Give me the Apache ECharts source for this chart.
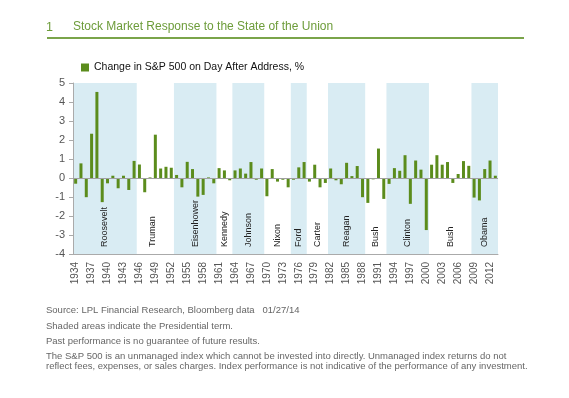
<!DOCTYPE html>
<html>
<head>
<meta charset="utf-8">
<script src="https://cdn.jsdelivr.net/npm/echarts@6/dist/echarts.min.js"></script>
<style>
html, body { margin: 0; padding: 0; background: #fff; }
#chart { width: 569px; height: 398px; }
</style>
</head>
<body>
<div id="chart"></div>
<script>
"use strict";

var years = ['1934', '1935', '1936', '1937', '1938', '1939', '1940', '1941', '1942', '1943',
    '1944', '1945', '1946', '1947', '1948', '1949', '1950', '1951', '1952', '1953',
    '1954', '1955', '1956', '1957', '1958', '1959', '1960', '1961', '1962', '1963',
    '1964', '1965', '1966', '1967', '1968', '1969', '1970', '1971', '1972', '1973',
    '1974', '1975', '1976', '1977', '1978', '1979', '1980', '1981', '1982', '1983',
    '1984', '1985', '1986', '1987', '1988', '1989', '1990', '1991', '1992', '1993',
    '1994', '1995', '1996', '1997', '1998', '1999', '2000', '2001', '2002', '2003',
    '2004', '2005', '2006', '2007', '2008', '2009', '2010', '2011', '2012', '2013'];

// % change in S&P 500 on the day after the address
var changes = [-0.3, 0.77, -1.01, 2.33, 4.53, -1.27, -0.28, 0.12, -0.54, 0.12,
    -0.63, 0.9, 0.71, -0.75, 0.03, 2.28, 0.5, 0.59, 0.54, 0.16,
    -0.49, 0.85, 0.47, -0.98, -0.89, 0.03, -0.28, 0.52, 0.4, -0.12,
    0.4, 0.5, 0.23, 0.84, -0.09, 0.5, -0.96, 0.47, -0.19, -0.09,
    -0.49, -0.09, 0.56, 0.84, -0.19, 0.7, -0.49, -0.26, 0.5, -0.12,
    -0.33, 0.8, 0.1, 0.63, -1.01, -1.31, -0.07, 1.55, -1.1, -0.31,
    0.52, 0.38, 1.2, -1.36, 0.92, 0.44, -2.74, 0.7, 1.2, 0.7,
    0.84, -0.26, 0.21, 0.89, 0.64, -1.03, -1.18, 0.47, 0.92, 0.12];

var presidents = ['Roosevelt', 'Truman', 'Eisenhower', 'Kennedy', 'Johnson', 'Nixon', 'Ford',
    'Carter', 'Reagan', 'Bush', 'Clinton', 'Bush', 'Obama'];
var termStart = ['1934', '1945', '1953', '1961', '1964', '1970', '1975', '1978', '1982', '1989', '1993', '2001', '2009'];
var termEnd = ['1945', '1952', '1960', '1963', '1969', '1974', '1977', '1981', '1988', '1992', '2000', '2008', '2013'];
var termShaded = [1, 0, 1, 0, 1, 0, 1, 0, 1, 0, 1, 0, 1];

var yTicks = [-4, 5];

var seriesName = 'Change in S&P 500 on Day After Address, %';
var font = '"Liberation Sans", Arial, sans-serif';

var terms = presidents.map(function (p, i) {
    return [years.indexOf(termStart[i]), years.indexOf(termEnd[i]), termShaded[i]];
});

var footer = [
    ['Source: LPL Financial Research, Bloomberg data   01/27/14', 305],
    ['Shaded areas indicate the Presidential term.', 321],
    ['Past performance is no guarantee of future results.', 336],
    ['The S&P 500 is an unmanaged index which cannot be invested into directly. Unmanaged index returns do not\nreflect fees, expenses, or sales charges. Index performance is not indicative of the performance of any investment.', 351]
];

var titles = [
    { text: '1', left: 46, top: 21, padding: 0,
        textStyle: { color: '#6d9c3a', fontSize: 12.5, fontWeight: 'normal', fontFamily: font } },
    { text: 'Stock Market Response to the State of the Union', left: 73, top: 21, padding: 0,
        textStyle: { color: '#6d9c3a', fontSize: 12, fontWeight: 'normal', fontFamily: font } }
];
footer.forEach(function (f) {
    titles.push({
        text: f[0], left: 46, top: f[1], padding: 0,
        textStyle: { color: '#666', fontSize: 9.5, fontWeight: 'normal', fontFamily: font, lineHeight: 10.5 }
    });
});

var chart = echarts.init(document.getElementById('chart'));

chart.setOption({
    animation: false,
    title: titles,
    graphic: [{
        type: 'line',
        shape: { x1: 47, y1: 38, x2: 524, y2: 38 },
        style: { stroke: '#7aa44a', lineWidth: 2 }
    }],
    legend: {
        data: [seriesName],
        left: 76,
        top: 57,
        icon: 'rect',
        itemWidth: 8,
        itemHeight: 8,
        textStyle: { fontSize: 10.5, color: '#111', fontFamily: font }
    },
    grid: {
        left: 73,
        right: 71,
        top: 83,
        bottom: 144
    },
    xAxis: {
        type: 'category',
        data: years,
        z: 3,
        axisLine: { onZero: false, lineStyle: { color: '#aaa' } },
        axisTick: { show: false },
        axisLabel: {
            interval: 2,
            rotate: 90,
            margin: 8,
            fontSize: 10,
            color: '#555',
            fontFamily: font
        }
    },
    yAxis: {
        type: 'value',
        min: yTicks[0],
        max: yTicks[1],
        interval: 1,
        z: 3,
        axisLine: { show: true, lineStyle: { color: '#aaa' } },
        axisTick: { show: true, length: 4, lineStyle: { color: '#aaa' } },
        splitLine: { show: false },
        axisLabel: { margin: 8, fontSize: 11, color: '#555', fontFamily: font }
    },
    series: [
        {
            type: 'custom',
            z: 1,
            silent: true,
            data: terms,
            renderItem: function (params, api) {
                var top = api.coord([api.value(0), yTicks[1]]);
                var bottom = api.coord([api.value(1), yTicks[0]]);
                var bw = api.size([1, 0])[0];
                var x0 = top[0] - bw / 2;
                var x1 = bottom[0] + bw / 2;
                var children = [];
                if (api.value(2)) {
                    children.push({
                        type: 'rect',
                        shape: { x: x0, y: top[1], width: x1 - x0, height: bottom[1] - top[1] },
                        style: { fill: '#d9ecf3' }
                    });
                }
                children.push({
                    type: 'text',
                    x: (x0 + x1) / 2,
                    y: bottom[1] - 7,
                    rotation: Math.PI / 2,
                    style: {
                        text: presidents[params.dataIndex],
                        fill: '#222',
                        font: '9px ' + font,
                        align: 'left',
                        verticalAlign: 'middle'
                    }
                });
                return { type: 'group', children: children };
            }
        },
        {
            name: seriesName,
            type: 'bar',
            data: changes,
            barWidth: 3,
            itemStyle: { color: '#5b8c1c' },
            markLine: {
                silent: true,
                symbol: 'none',
                label: { show: false },
                lineStyle: { color: '#a0a0a0', width: 1, type: 'solid' },
                data: [{ yAxis: 0 }]
            }
        }
    ]
});
</script>
</body>
</html>
